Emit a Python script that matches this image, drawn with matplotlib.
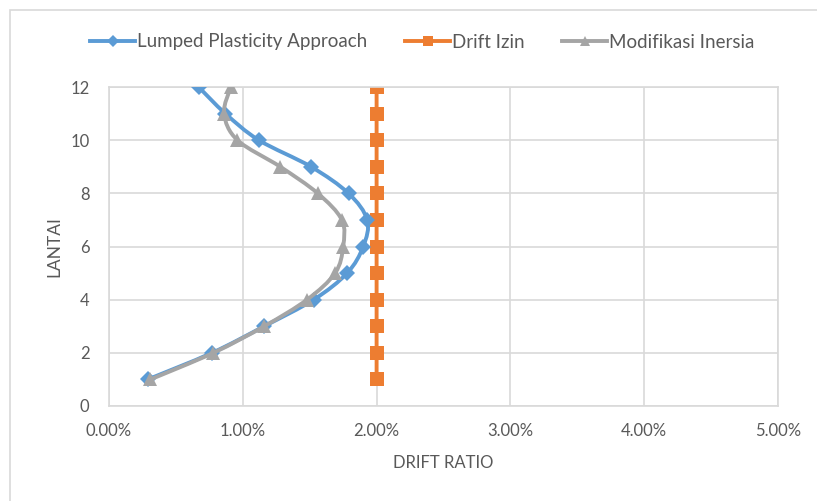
import numpy as np
import matplotlib
matplotlib.use("Agg")
import matplotlib.pyplot as plt
from matplotlib.path import Path
from matplotlib.patches import PathPatch, Rectangle
from matplotlib.lines import Line2D

plt.rcParams['font.family'] = ['Lato', 'DejaVu Sans']

floors = [1, 2, 3, 4, 5, 6, 7, 8, 9, 10, 11, 12]
lumped = [0.0029, 0.0077, 0.0116, 0.0153, 0.0178, 0.0190, 0.0193, 0.0179, 0.0151, 0.0112, 0.0087, 0.0067]
izin = [0.02] * 12
modif = [0.0031, 0.0078, 0.0116, 0.0148, 0.0169, 0.0175, 0.0174, 0.0156, 0.0128, 0.0096, 0.0086, 0.0091]

labels = ["Lumped Plasticity Approach", "Drift Izin", "Modifikasi Inersia"]
colors = ["#5B9BD5", "#ED7D31", "#A5A5A5"]
markers = ["D", "s", "^"]
xticks = [0, 0.01, 0.02, 0.03, 0.04, 0.05]
yticks = [0, 2, 4, 6, 8, 10, 12]
txt = "#595959"
grid = "#D9D9D9"

fig = plt.figure(figsize=(8.17, 5.01), dpi=100)
W, H = 817, 501
# chart border
fig.patches.append(Rectangle((10 / W, -0.1), 2, 1.1 - 10 / H, transform=fig.transFigure,
                             fill=False, edgecolor=grid, lw=1.2))
ax = fig.add_axes([109 / W, 1 - 406 / H, (778 - 109) / W, (406 - 87) / H])


def smooth_path(xs, ys, t=1 / 6):
    xs = np.asarray(xs, float)
    ys = np.asarray(ys, float)
    sx, sy = 13340.0, 26.6
    P = np.column_stack([xs * sx, ys * sy])
    verts = [P[0]]
    codes = [Path.MOVETO]
    n = len(P)
    for i in range(n - 1):
        p0 = P[i - 1] if i > 0 else P[i]
        p1 = P[i]
        p2 = P[i + 1]
        p3 = P[i + 2] if i + 2 < n else P[i + 1]
        c1 = p1 + (p2 - p0) * t
        c2 = p2 - (p3 - p1) * t
        verts += [c1, c2, p2]
        codes += [Path.CURVE4] * 3
    V = np.array(verts)
    V[:, 0] /= sx
    V[:, 1] /= sy
    return Path(V, codes)


series = [lumped, izin, modif]
msizes = [8.5, 10, 10.5]
for vals, c, m, ms, z in zip(series, colors, markers, msizes, [3, 2, 4]):
    patch = PathPatch(smooth_path(vals, floors), fill=False, edgecolor=c, lw=2.8,
                      capstyle='round', joinstyle='round', zorder=z)
    ax.add_patch(patch)
    ax.plot(vals, floors, ls='none', marker=m, color=c, ms=ms, zorder=z + 0.1,
            markeredgewidth=0)

ax.set_xlim(0, 0.05)
ax.set_ylim(0, 12)
ax.set_xticks(xticks)
ax.set_yticks(yticks)
ax.set_xticklabels([f"{v * 100:.2f}%" for v in xticks])
ax.set_yticklabels([str(v) for v in yticks])
ax.grid(True, color=grid, lw=1.2)
ax.set_axisbelow(True)
for s in ax.spines.values():
    s.set_color(grid)
    s.set_linewidth(1.2)
ax.tick_params(length=0, colors=txt, labelsize=12, pad=12)
ax.tick_params(axis='y', pad=14)
ax.set_xlabel("DRIFT RATIO", color=txt, fontsize=12, labelpad=12)
ax.set_ylabel("LANTAI", color=txt, fontsize=12.5, labelpad=6)

handles = [Line2D([], [], color=c, lw=2.8, marker=m, ms=ms * 0.75, markeredgewidth=0)
           for c, m, ms in zip(colors, markers, msizes)]
fig.legend(handles, labels, loc='center', bbox_to_anchor=(0.517, 1 - 42 / H), ncol=3,
           frameon=False, fontsize=13.5, labelcolor=txt, handlelength=2.4,
           handletextpad=0.1, columnspacing=2.0)

fig.savefig("out.png", dpi=100)
